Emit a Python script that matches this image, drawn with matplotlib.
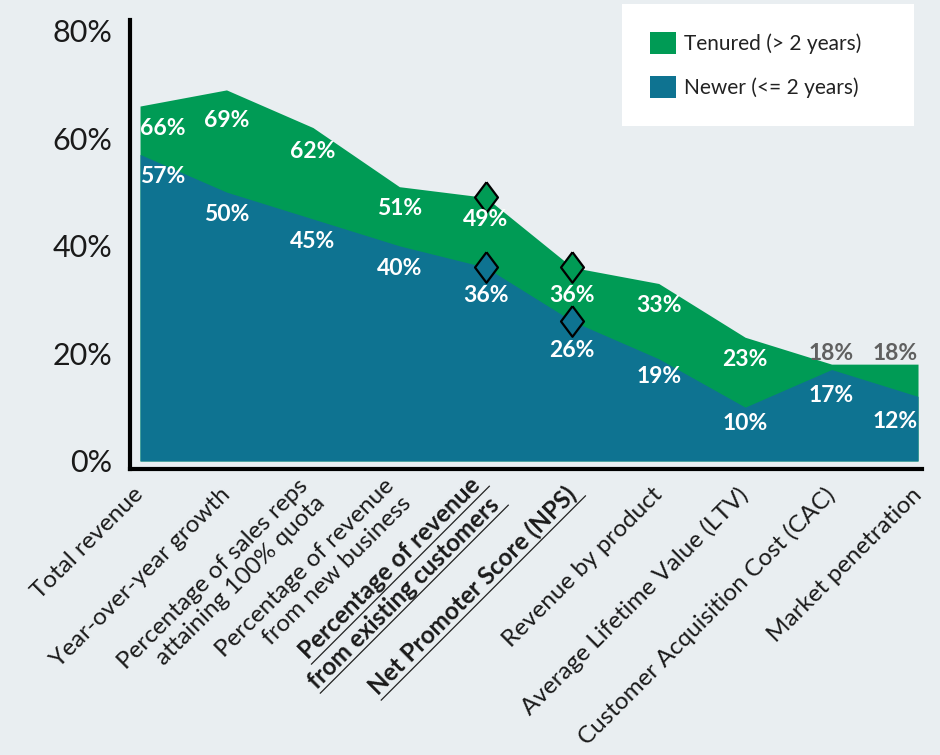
import numpy as np
import matplotlib
matplotlib.use("Agg")
import matplotlib.pyplot as plt
from matplotlib.patches import Patch
from matplotlib.lines import Line2D

plt.rcParams['font.family'] = ['Lato', 'DejaVu Sans']

categories = [
    "Total revenue",
    "Year-over-year growth",
    "Percentage of sales reps\nattaining 100% quota",
    "Percentage of revenue\nfrom new business",
    "Percentage of revenue\nfrom existing customers",
    "Net Promoter Score (NPS)",
    "Revenue by product",
    "Average Lifetime Value (LTV)",
    "Customer Acquisition Cost (CAC)",
    "Market penetration",
]
tenured = [66, 69, 62, 51, 49, 36, 33, 23, 18, 18]
newer = [57, 50, 45, 40, 36, 26, 19, 10, 17, 12]
highlight = [4, 5]
yticks = [0, 20, 40, 60, 80]

BG = "#e9eef1"
GREEN = "#009b55"
BLUE = "#0e7391"
GREY_LABEL = "#606060"

# vertical nudges (points) for value labels that sit next to diamonds / bends
tenured_nudge = [0, -6, -1, 0, 0, -4, 0, 0, 0, 0]
newer_nudge = [0, 0, 0, 0, -4, -5, 3, 4, -3, -2]

fig = plt.figure(figsize=(9.4, 7.55), dpi=100, facecolor=BG)
ax = fig.add_axes([130 / 940, 1 - 469 / 755, 792 / 940, 449 / 755])
ax.set_facecolor(BG)

x = np.arange(len(categories))
ax.fill_between(x, tenured, color=GREEN, lw=0, zorder=1)
ax.fill_between(x, newer, color=BLUE, lw=0, zorder=2)

# diamonds on the two highlighted metrics
diamond = [(0, 1), (0.75, 0), (0, -1), (-0.75, 0), (0, 1)]
hx = np.array(highlight)
ax.plot(hx, [tenured[i] for i in highlight], ls="none", marker=diamond, ms=22,
        mfc=GREEN, mec="black", mew=1.6, zorder=4)
ax.plot(hx, [newer[i] for i in highlight], ls="none", marker=diamond, ms=22,
        mfc=BLUE, mec="black", mew=1.6, zorder=4)


def halign(i):
    if i == 0:
        return "left"
    if i == len(categories) - 1:
        return "right"
    return "center"


for i, (t, n) in enumerate(zip(tenured, newer)):
    if i >= 8:
        # tenured band is too thin at the end, label goes above it
        ax.annotate(f"{t}%", (i, t), xytext=(0, 8), textcoords="offset points",
                    ha=halign(i), va="center", color=GREY_LABEL,
                    fontsize=16.5, fontweight="bold", zorder=5)
    else:
        ax.annotate(f"{t}%", (i, t), xytext=(0, -16 + tenured_nudge[i]),
                    textcoords="offset points", ha=halign(i), va="center",
                    color="white", fontsize=16.5, fontweight="bold", zorder=5)
    ax.annotate(f"{n}%", (i, n), xytext=(0, -16 + newer_nudge[i]),
                textcoords="offset points", ha=halign(i), va="center",
                color="white", fontsize=16.5, fontweight="bold", zorder=5)

ax.set_xlim(-0.116, 9.046)
ax.set_ylim(-1.5, 82)

for side in ["top", "right"]:
    ax.spines[side].set_visible(False)
for side in ["left", "bottom"]:
    ax.spines[side].set_color("black")
    ax.spines[side].set_linewidth(3)

ax.set_yticks(yticks)
ax.set_yticklabels([f"{v}%" for v in yticks])
ax.tick_params(axis="y", length=0, pad=13, labelsize=22, labelcolor="#1a1a1a")

ax.set_xticks(x)
ax.set_xticklabels(categories, rotation=45, ha="right", va="center",
                   rotation_mode="anchor", multialignment="right")
ax.tick_params(axis="x", length=0, pad=16, labelsize=17.5, labelcolor="#1a1a1a")
for i in highlight:
    ax.get_xticklabels()[i].set_fontweight("bold")

handles = [Patch(facecolor=GREEN, edgecolor="none", label="Tenured (> 2 years)"),
           Patch(facecolor=BLUE, edgecolor="none", label="Newer (<= 2 years)")]
leg = fig.legend(handles=handles, loc="upper left",
                 bbox_to_anchor=(622 / 940, 1 - 125 / 755, 292 / 940, 121 / 755),
                 bbox_transform=fig.transFigure, mode="expand",
                 frameon=True, fancybox=False, facecolor="white", edgecolor="none",
                 framealpha=1, fontsize=15, handlelength=1.25, handleheight=1.25,
                 handletextpad=0.4, labelspacing=1.05, borderpad=1.35,
                 borderaxespad=0)
for txt in leg.get_texts():
    txt.set_color("#222222")

# underline the highlighted tick labels line by line
fig.canvas.draw()
renderer = fig.canvas.get_renderer()
for i in highlight:
    label = ax.get_xticklabels()[i]
    _, info, _ = label._get_layout(renderer)
    posx, posy = label.get_transform().transform(label.get_position())
    ang = np.radians(label.get_rotation())
    ux, uy = np.cos(ang), np.sin(ang)
    px, py = np.sin(ang), -np.cos(ang)
    gap = label.get_fontsize() * fig.dpi / 72 * 0.2
    for line, (w, h), lx, ly in info:
        x0 = posx + lx + px * gap
        y0 = posy + ly + py * gap
        pts = fig.transFigure.inverted().transform(
            [(x0, y0), (x0 + (w + 6) * ux, y0 + (w + 6) * uy)])
        fig.add_artist(Line2D(pts[:, 0], pts[:, 1], color="#222222", lw=0.9,
                              transform=fig.transFigure))

fig.savefig("out.png", dpi=100, facecolor=BG)
